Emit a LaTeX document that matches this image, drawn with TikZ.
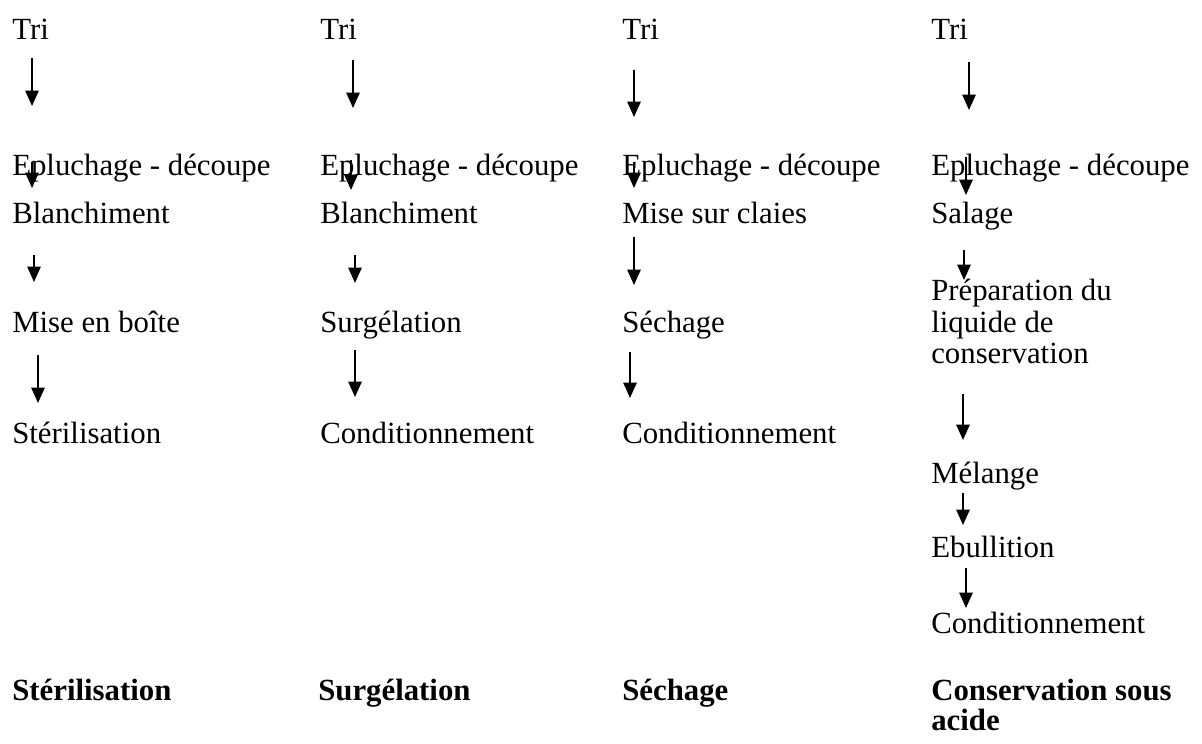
\documentclass[tikz,border=0pt]{standalone}
\usepackage{fontspec}
\setmainfont{Liberation Serif}
\usetikzlibrary{arrows.meta,calc}

\begin{document}
\begin{tikzpicture}[x=.025cm, y=-.025cm,
    etape/.style={draw=none, anchor=base west, inner sep=0pt, font=\fontsize{21.9}{22.3}\selectfont},
    bloc/.style={draw=none, anchor=north west, inner sep=0pt, align=left, font=\fontsize{21.9}{22.3}\selectfont},
    titre/.style={etape, font=\fontsize{21.9}{21.3}\selectfont\bfseries},
    fleche/.style={line width=1.4pt, -{Triangle[length=11pt,width=9.5pt]}}]
             \useasboundingbox (0,0) rectangle (1202,743);
             \coordinate (c1) at (32,0);
             \coordinate (c2) at (353,0);
             \coordinate (c3) at (634,0);
             \coordinate (c4) at (966,0);

             % sterilisation
             \node[etape] (tri1) at (12,39) {Tri};
             \node[etape] (epl1) at (12,175) {Epluchage - découpe};
             \node[etape] (bla1) at (12,223) {Blanchiment};
             \node[etape] (boi1) at (12,332) {Mise en boîte};
             \node[etape] (ste1) at (12,443) {Stérilisation};
             \node[titre] (tit1) at (12,700) {Stérilisation};
             \draw[fleche] ($(tri1.base west -| c1)+(0,19)$) -- ($(epl1.base west -| c1)+(0,-69)$);
             \draw[fleche] ($(epl1.base west -| c1)+(0,-13)$) -- ($(bla1.base west -| c1)+(0,-35)$);
             \draw[fleche] ($(bla1.base west -| c1)+(2,32)$) -- ($(boi1.base west -| c1)+(2,-50)$);
             \draw[fleche] ($(boi1.base west -| c1)+(6,23)$) -- ($(ste1.base west -| c1)+(6,-40)$);

             % surgelation
             \node[etape] (tri2) at (320,39) {Tri};
             \node[etape] (epl2) at (320,175) {Epluchage - découpe};
             \node[etape] (bla2) at (320,223) {Blanchiment};
             \node[etape] (sur2) at (320,332) {Surgélation};
             \node[etape] (con2) at (320,443) {Conditionnement};
             \node[titre] (tit2) at (318,700) {Surgélation};
             \draw[fleche] ($(tri2.base west -| c2)+(0,21)$) -- ($(epl2.base west -| c2)+(0,-67)$);
             \draw[fleche] ($(epl2.base west -| c2)+(-2,-15)$) -- ($(bla2.base west -| c2)+(-2,-33)$);
             \draw[fleche] ($(bla2.base west -| c2)+(2,32)$) -- ($(sur2.base west -| c2)+(2,-49)$);
             \draw[fleche] ($(sur2.base west -| c2)+(2,18)$) -- ($(con2.base west -| c2)+(2,-46)$);

             % sechage
             \node[etape] (tri3) at (622,39) {Tri};
             \node[etape] (epl3) at (622,175) {Epluchage - découpe};
             \node[etape] (cla3) at (622,223) {Mise sur claies};
             \node[etape] (sec3) at (622,332) {Séchage};
             \node[etape] (con3) at (622,443) {Conditionnement};
             \node[titre] (tit3) at (622,700) {Séchage};
             \draw[fleche] ($(tri3.base west -| c3)+(0,31)$) -- ($(epl3.base west -| c3)+(0,-58)$);
             \draw[fleche] ($(epl3.base west -| c3)+(0,-13)$) -- ($(cla3.base west -| c3)+(0,-35)$);
             \draw[fleche] ($(cla3.base west -| c3)+(0,14)$) -- ($(sec3.base west -| c3)+(0,-47)$);
             \draw[fleche] ($(sec3.base west -| c3)+(-4,20)$) -- ($(con3.base west -| c3)+(-4,-45)$);

             % acide
             \node[etape] (tri4) at (931,39) {Tri};
             \node[etape] (epl4) at (931,175) {Epluchage - découpe};
             \node[etape] (sal4) at (931,223) {Salage};
             \node[bloc] (pre4) at (931,279) {Préparation du\\liquide de\\conservation};
             \node[etape] (mel4) at (931,483) {Mélange};
             \node[etape] (ebu4) at (931,557) {Ebullition};
             \node[etape] (con4) at (931,633) {Conditionnement};
             \node[bloc, font=\fontsize{21.9}{21.3}\selectfont\bfseries] (tit4) at (931,679) {Conservation sous\\acide};
             \draw[fleche] ($(tri4.base west -| c4)+(3,23)$) -- ($(epl4.base west -| c4)+(3,-65)$);
             \draw[fleche] ($(epl4.base west -| c4)+(0,-18)$) -- ($(sal4.base west -| c4)+(0,-28)$);
             \draw[fleche] ($(sal4.base west -| c4)+(-2,27)$) -- ($(pre4.north west -| c4)+(-2,1)$);
             \draw[fleche] ($(pre4.south west -| c4)+(-3,30)$) -- ($(mel4.base west -| c4)+(-3,-43)$);
             \draw[fleche] ($(mel4.base west -| c4)+(-3,10)$) -- ($(ebu4.base west -| c4)+(-3,-32)$);
             \draw[fleche] ($(ebu4.base west -| c4)+(0,11)$) -- ($(con4.base west -| c4)+(0,-25)$);
\end{tikzpicture}
\end{document}
